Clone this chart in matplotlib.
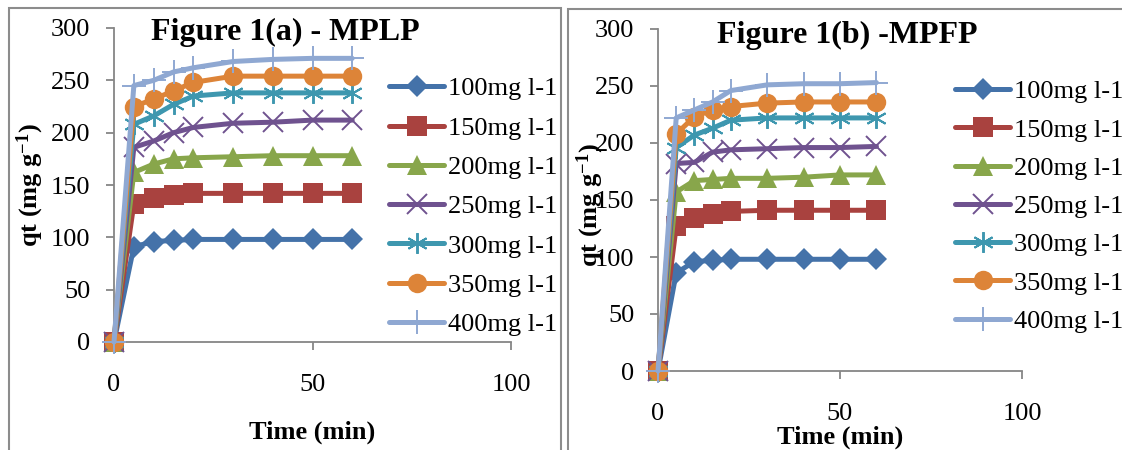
import matplotlib
matplotlib.use("Agg")
import matplotlib.pyplot as plt
from matplotlib.patches import Rectangle

plt.rcParams['font.family'] = ['Liberation Serif', 'DejaVu Serif']
plt.rcParams['mathtext.fontset'] = 'custom'
plt.rcParams['mathtext.rm'] = 'Liberation Serif'
plt.rcParams['mathtext.bf'] = 'Liberation Serif:bold'
plt.rcParams['mathtext.default'] = 'bf'

time_min = [0, 5, 10, 15, 20, 30, 40, 50, 60]
labels = ['100mg l-1', '150mg l-1', '200mg l-1', '250mg l-1', '300mg l-1', '350mg l-1', '400mg l-1']

mplp_100 = [0, 91, 96, 97, 98, 98, 98, 98, 98]
mplp_150 = [0, 132, 138, 140, 142, 142, 142, 142, 142]
mplp_200 = [0, 162, 170, 175, 176, 177, 178, 178, 178]
mplp_250 = [0, 186, 192, 200, 205, 209, 210, 212, 212]
mplp_300 = [0, 208, 216, 227, 235, 238, 238, 238, 238]
mplp_350 = [0, 225, 232, 240, 248, 254, 254, 254, 254]
mplp_400 = [0, 245, 250, 258, 262, 268, 270, 271, 271]

mpfp_100 = [0, 86, 96, 97, 98, 98, 98, 98, 98]
mpfp_150 = [0, 127, 134, 138, 140, 141, 141, 141, 141]
mpfp_200 = [0, 157, 167, 168, 169, 169, 170, 172, 172]
mpfp_250 = [0, 182, 183, 192, 194, 195, 196, 196, 197]
mpfp_300 = [0, 196, 207, 213, 220, 222, 222, 222, 222]
mpfp_350 = [0, 208, 223, 229, 232, 235, 236, 236, 236]
mpfp_400 = [0, 222, 229, 236, 246, 251, 252, 252, 253]

colors = ['#4472A9', '#A9423F', '#88A64B', '#6F528F', '#3E97AF', '#DD8438', '#8FA8D2']
markers = ['D', 's', '^', 'x', (6, 2, 0), 'o', '+']
msizes = [11, 14, 14, 14, 15, 14, 17]
medge = [0, 0, 0, 1.4, 1.4, 0, 1.4]

fig = plt.figure(figsize=(11.22, 4.5), dpi=100)

border = '#8C8C8C'
fig.patches.append(Rectangle((9/1122, -0.1), (561-9)/1122, 1.1 - 8/450, transform=fig.transFigure,
                             fill=False, edgecolor=border, linewidth=1.5))
fig.patches.append(Rectangle((568/1122, -0.1), 0.6, 1.1 - 9/450, transform=fig.transFigure,
                             fill=False, edgecolor=border, linewidth=1.5))

def make_panel(rect, series, title, title_xy, ylabel_xy, xlabel_xy, legend_xy, lspacing):
    ax = fig.add_axes(rect)
    for i, ys in enumerate(series):
        m = markers[i]
        filled = medge[i] == 0
        ax.plot(time_min, ys, color=colors[i], lw=3.6, marker=m, markersize=msizes[i],
                markerfacecolor=colors[i], markeredgecolor=colors[i],
                markeredgewidth=(0 if filled else medge[i]), label=labels[i],
                solid_capstyle='round', solid_joinstyle='round', clip_on=False, zorder=3 + i)
    ax.set_xlim(0, 100)
    ax.set_ylim(0, 300)
    ax.set_xticks([0, 50, 100])
    ax.set_yticks(range(0, 301, 50))
    for s in ['top', 'right']:
        ax.spines[s].set_visible(False)
    for s in ['left', 'bottom']:
        ax.spines[s].set_color('#868686')
        ax.spines[s].set_linewidth(1.3)
    ax.tick_params(axis='both', direction='out', length=6, width=1.3, color='#868686',
                   labelsize=19, labelcolor='black')
    ax.tick_params(axis='x', pad=17)
    ax.tick_params(axis='y', pad=11)
    ax.patch.set_alpha(0)
    fig.text(title_xy[0] / 1122, 1 - title_xy[1] / 450, title, ha='center', va='center',
             fontsize=23, fontweight='bold')
    fig.text(ylabel_xy[0] / 1122, 1 - ylabel_xy[1] / 450, r'qt (mg g$^{-1}$)', ha='center', va='center',
             rotation=90, fontsize=19, fontweight='bold')
    fig.text(xlabel_xy[0] / 1122, 1 - xlabel_xy[1] / 450, 'Time (min)', ha='center', va='center',
             fontsize=19, fontweight='bold')
    fig.legend(handles=ax.get_lines(), labels=labels, loc='upper left',
               bbox_to_anchor=(legend_xy[0] / 1122, 1 - legend_xy[1] / 450),
               bbox_transform=fig.transFigure, frameon=False, fontsize=19,
               borderpad=0, borderaxespad=0, handlelength=2.1, handletextpad=0.15,
               labelspacing=lspacing, markerscale=1.0)
    return ax

make_panel([114/1122, 1 - 342/450, 397/1122, 314/450],
           [mplp_100, mplp_150, mplp_200, mplp_250, mplp_300, mplp_350, mplp_400],
           'Figure 1(a) - MPLP', (285, 32), (30, 185), (312, 432), (389, 77), 0.6)
make_panel([658/1122, 1 - 371/450, 364/1122, 342/450],
           [mpfp_100, mpfp_150, mpfp_200, mpfp_250, mpfp_300, mpfp_350, mpfp_400],
           'Figure 1(b) -MPFP', (847, 35), (590, 205), (840, 437), (955, 80), 0.56)

fig.savefig('out.png', dpi=100)
